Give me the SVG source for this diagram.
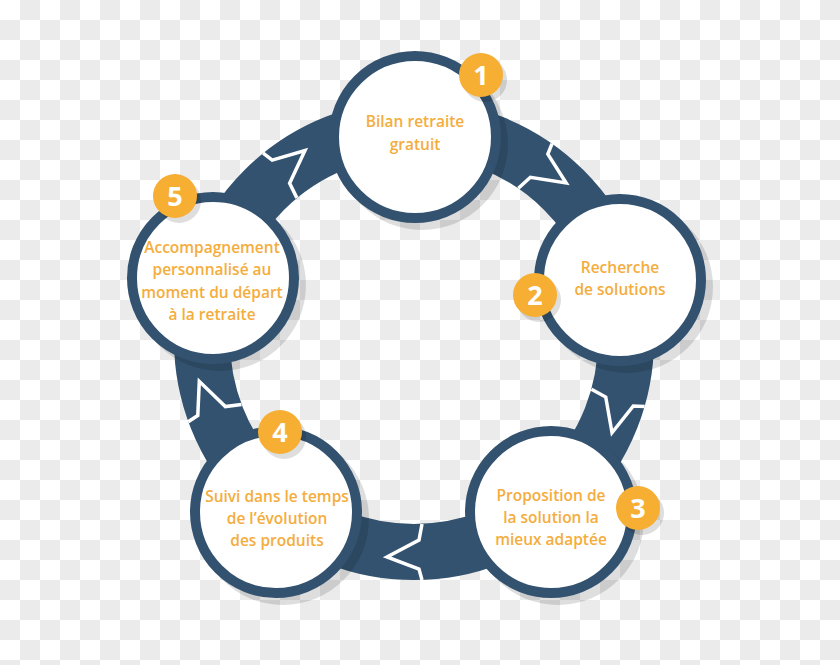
<svg xmlns="http://www.w3.org/2000/svg" width="840" height="665" viewBox="0 0 840 665">
<defs>
<pattern id="chk" width="40" height="40" patternUnits="userSpaceOnUse">
<rect width="40" height="40" fill="#ffffff"/>
<rect x="20" y="0" width="20" height="20" fill="#ebebeb"/>
<rect x="0" y="20" width="20" height="20" fill="#ebebeb"/>
</pattern>
<polyline id="chev" points="8,-28 5,-12 -27,5 5,17 8,28"/>
</defs>
<style>
.ring{fill:none;stroke:#33526f;stroke-width:56}
.chev{fill:none;stroke:#ffffff;stroke-width:3.5;stroke-linejoin:miter}
.shadow{fill:#000000;fill-opacity:0.13}
.node{fill:#ffffff;stroke:#33526f;stroke-width:10}
.badge{fill:#f6ae33}
.num{font-family:"Open Sans","Liberation Sans",sans-serif;font-weight:700;font-size:27px;fill:#ffffff;text-anchor:middle}
.lbl{font-family:"Open Sans","Liberation Sans",sans-serif;font-weight:600;font-size:15.5px;fill:#f4ad3d;text-anchor:middle}
</style>
<rect width="840" height="665" fill="url(#chk)"/>
<g id="connectors">
<circle class="ring" cx="414" cy="340" r="212"/>
<use href="#chev" class="chev" transform="translate(541.6,170.7) rotate(-143)"/>
<use href="#chev" class="chev" transform="translate(615.6,405.5) rotate(-72)"/>
<use href="#chev" class="chev" transform="translate(414,552)"/>
<use href="#chev" class="chev" transform="translate(212.4,405.5) rotate(72)"/>
<use href="#chev" class="chev" transform="translate(286.4,170.7) rotate(143)"/>
</g>
<g id="node1">
<circle class="shadow" cx="422" cy="144" r="86"/>
<circle class="node" cx="415" cy="137" r="81"/>
<circle class="shadow" cx="485" cy="80" r="22"/>
<circle class="badge" cx="481" cy="75" r="22"/>
<text class="num" x="481" y="85">1</text>
<text class="lbl" x="415" y="127">Bilan retraite</text>
<text class="lbl" x="415" y="150">gratuit</text>
</g>
<g id="node2">
<circle class="shadow" cx="627" cy="287" r="86"/>
<circle class="node" cx="620" cy="280" r="81"/>
<circle class="shadow" cx="539" cy="300" r="22"/>
<circle class="badge" cx="535" cy="295" r="22"/>
<text class="num" x="535" y="305">2</text>
<text class="lbl" x="620" y="273">Recherche</text>
<text class="lbl" x="620" y="295">de solutions</text>
</g>
<g id="node3">
<circle class="shadow" cx="558" cy="519" r="86"/>
<circle class="node" cx="551" cy="512" r="81"/>
<circle class="shadow" cx="642" cy="513" r="22"/>
<circle class="badge" cx="638" cy="508" r="22"/>
<text class="num" x="638" y="518">3</text>
<text class="lbl" x="551" y="501">Proposition de</text>
<text class="lbl" x="551" y="523">la solution la</text>
<text class="lbl" x="551" y="545">mieux adaptée</text>
</g>
<g id="node4">
<circle class="shadow" cx="283" cy="519" r="86"/>
<circle class="node" cx="276" cy="512" r="81"/>
<circle class="shadow" cx="284" cy="437" r="22"/>
<circle class="badge" cx="280" cy="432" r="22"/>
<text class="num" x="280" y="442">4</text>
<text class="lbl" x="277" y="502">Suivi dans le temps</text>
<text class="lbl" x="277" y="524">de l’évolution</text>
<text class="lbl" x="277" y="546">des produits</text>
</g>
<g id="node5">
<circle class="shadow" cx="220" cy="285" r="86"/>
<circle class="node" cx="213" cy="278" r="81"/>
<circle class="shadow" cx="179" cy="201" r="22"/>
<circle class="badge" cx="175" cy="196" r="22"/>
<text class="num" x="175" y="206">5</text>
<text class="lbl" x="212" y="253">Accompagnement</text>
<text class="lbl" x="212" y="275">personnalisé au</text>
<text class="lbl" x="212" y="298">moment du départ</text>
<text class="lbl" x="212" y="320">à la retraite</text>
</g>
</svg>
